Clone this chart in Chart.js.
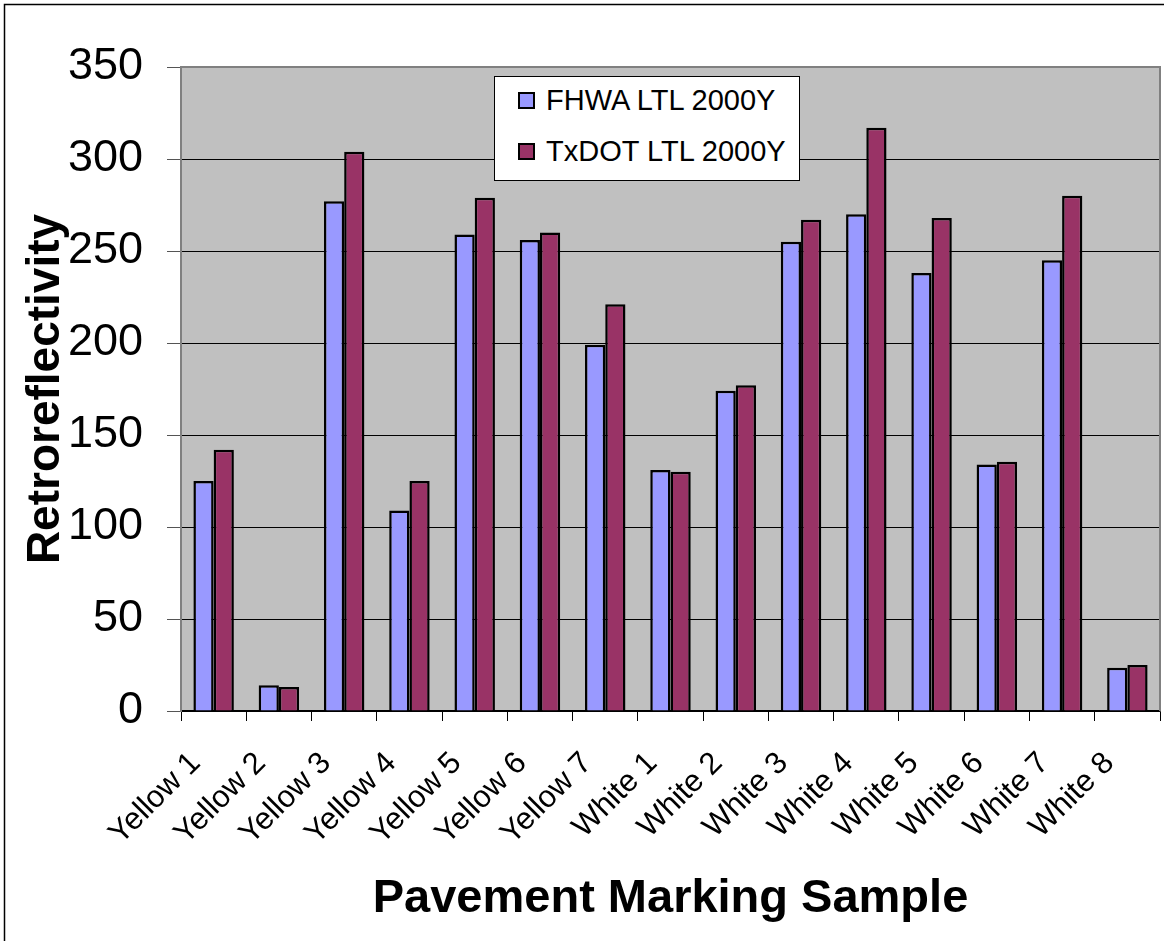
<!DOCTYPE html>
<html>
<head>
<meta charset="utf-8">
<title>Retroreflectivity by pavement marking sample</title>
<script src="https://cdn.jsdelivr.net/npm/chart.js@4/dist/chart.umd.min.js"></script>
<style>
    html, body { margin: 0; padding: 0; background: #fff; }
    #wrap { position: relative; width: 1164px; height: 941px; }
    #legend {
        position: absolute; left: 494px; top: 76px; width: 304px; height: 103px;
        background: #fff; border: 1px solid #000; box-sizing: content-box;
        font-family: 'Liberation Sans', Arial, sans-serif; font-size: 29px; color: #000;
    }
    #legend .item { position: absolute; left: 23px; display: flex; align-items: center; white-space: nowrap; }
    #legend .sw { width: 13px; height: 13px; border: 2px solid #000; margin-right: 11px; }
</style>
</head>
<body>
<div id="wrap">
    <canvas id="chart" width="1164" height="941"></canvas>
    <div id="legend"></div>
</div>
<script>
// ── Data ──────────────────────────────────────────────
const categories = ['Yellow 1', 'Yellow 2', 'Yellow 3', 'Yellow 4', 'Yellow 5', 'Yellow 6', 'Yellow 7',
                    'White 1', 'White 2', 'White 3', 'White 4', 'White 5', 'White 6', 'White 7', 'White 8'];
const fhwaValues  = [125, 14, 277, 109, 259, 256, 199, 131, 174, 255, 270, 238, 134, 245, 23.5];
const txdotValues = [142, 13, 304, 125, 279, 260, 221, 130, 177, 267, 317, 268, 135.5, 280, 25];
const seriesNames = ['FHWA LTL 2000Y', 'TxDOT LTL 2000Y'];
const seriesColors = ['#9999ff', '#993366'];
const yTicks = [0, 50, 100, 150, 200, 250, 300, 350];

const FONT = "'Liberation Sans', Arial, sans-serif";

// ── Plot area background + frame ──────────────────────
const plotFrame = {
    id: 'plotFrame',
    beforeDraw(chart) {
        const { ctx, chartArea: a } = chart;
        ctx.save();
        ctx.fillStyle = '#c0c0c0';
        ctx.fillRect(a.left, a.top, a.right - a.left, a.bottom - a.top);
        // page border (left + top only, the rest is cropped off)
        ctx.strokeStyle = '#000';
        ctx.lineWidth = 1.5;
        ctx.beginPath();
        ctx.moveTo(4.5, 941);
        ctx.lineTo(4.5, 4.5);
        ctx.lineTo(1164, 4.5);
        ctx.stroke();
        ctx.restore();
    },
    afterDatasetsDraw(chart) {
        const { ctx, chartArea: a } = chart;
        ctx.save();
        ctx.strokeStyle = '#808080';
        ctx.lineWidth = 2;
        ctx.beginPath();
        ctx.moveTo(a.left, a.top);
        ctx.lineTo(a.right, a.top);
        ctx.lineTo(a.right, a.bottom);
        ctx.stroke();
        ctx.restore();
    }
};

new Chart(document.getElementById('chart'), {
    type: 'bar',
    data: {
        labels: categories,
        datasets: [fhwaValues, txdotValues].map((values, i) => ({
            label: seriesNames[i],
            data: values,
            backgroundColor: seriesColors[i],
            borderColor: '#000',
            borderWidth: 2.5,
            categoryPercentage: 0.62,
            barPercentage: 1,
        })),
    },
    options: {
        responsive: false,
        animation: false,
        layout: { padding: { left: 0, top: 67, right: 4, bottom: 0 } },
        plugins: {
            legend: { display: false },
            tooltip: { enabled: false },
        },
        scales: {
            x: {
                grid: { drawOnChartArea: false, tickLength: 10, color: '#000' },
                border: { color: '#000', width: 1.5 },
                ticks: {
                    autoSkip: false, maxRotation: 45, minRotation: 45,
                    color: '#000', padding: 24, labelOffset: -18,
                    font: { family: FONT, size: 31 },
                },
                title: {
                    display: true, text: 'Pavement Marking Sample', color: '#000',
                    font: { family: FONT, size: 47, weight: 'bold', lineHeight: 1.2 },
                    padding: { top: 0, bottom: 14 },
                },
                afterFit: s => {
                    s.height = 941 - 711;
                    s.paddingLeft = 0;
                    s.paddingRight = 0;
                },
            },
            y: {
                min: 0, max: 350,
                afterBuildTicks: s => { s.ticks = yTicks.map(v => ({ value: v })); },
                grid: { color: '#000', lineWidth: 1, tickLength: 14, tickColor: '#555' },
                border: { color: '#808080', width: 2 },
                ticks: { color: '#000', padding: 24, font: { family: FONT, size: 45 } },
                title: {
                    display: true, text: 'Retroreflectivity', color: '#000',
                    font: { family: FONT, size: 46, weight: 'bold', lineHeight: 1.2 },
                    padding: { top: 19, bottom: 0 },
                },
                afterFit: s => { s.width = 181; },
            },
        },
    },
    plugins: [plotFrame],
});

// ── Legend (boxed, inside plot) ───────────────────────
const legend = document.getElementById('legend');
seriesNames.forEach((name, i) => {
    const item = document.createElement('div');
    item.className = 'item';
    item.style.top = (i === 0 ? 7 : 58) + 'px';
    item.innerHTML = `<span class="sw" style="background:${seriesColors[i]}"></span><span>${name}</span>`;
    legend.appendChild(item);
});
</script>
</body>
</html>
